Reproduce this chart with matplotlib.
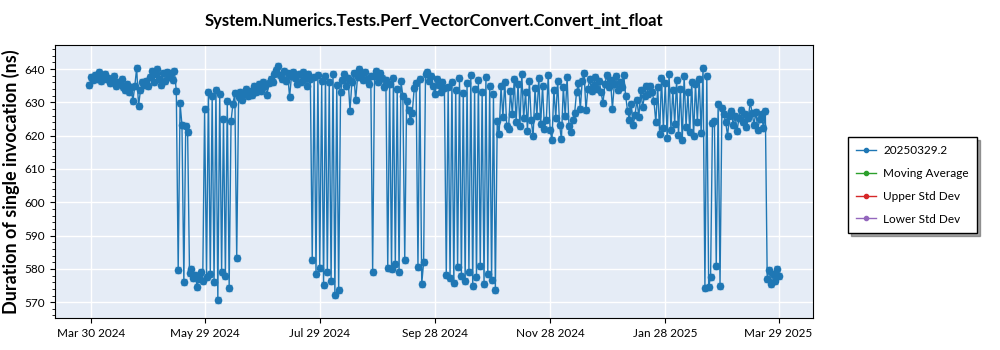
import matplotlib
matplotlib.use("Agg")
import matplotlib.pyplot as plt
import matplotlib.dates as mdates
from matplotlib.lines import Line2D
from matplotlib.ticker import AutoMinorLocator, MultipleLocator
import pandas as pd

plt.rcParams["font.family"] = ["Lato", "DejaVu Sans"]

title = "System.Numerics.Tests.Perf_VectorConvert.Convert_int_float"
series_label = "20250329.2"
first_day = "2024-03-29"
tick_dates = ["2024-03-30", "2024-05-29", "2024-07-29", "2024-09-28",
              "2024-11-28", "2025-01-28", "2025-03-29"]

# one run per day, ns
durations = [
    # Mar 29 - Apr 25
    635.2, 637.5, 636.8, 638.1, 637.0, 639.2, 636.4, 637.8, 638.5, 636.9,
    637.2, 635.8, 636.5, 638.0, 634.9, 636.2, 635.4, 637.1, 634.6, 633.8,
    635.5, 633.0, 634.5, 630.5, 634.8, 640.4, 628.9, 633.6,
    # Apr 26 - May 13
    636.0, 635.2, 636.5, 634.8,
    637.5, 639.4, 636.2, 638.6, 640.1, 637.0, 635.3, 638.8, 636.4, 639.0,
    637.6, 638.9, 636.7, 639.3, 633.5,
    # May 16 - Jun 14
    579.6, 629.8, 623.2, 576.1, 622.8, 621.0, 578.9, 580.0, 577.4, 578.2,
    574.7, 577.0, 579.1, 576.5,
    628.0, 577.5, 633.0, 578.6, 631.8, 576.2, 633.8, 570.6, 632.6, 579.2,
    625.0, 578.0, 630.5, 574.4, 624.4, 629.6, 632.7, 583.2,
    # Jun 17 - Jul 24
    631.5, 633.0, 630.8, 632.6, 634.1, 631.9, 633.5, 632.2, 634.8, 633.0,
    634.5, 635.6, 633.4, 636.2, 634.9, 632.1, 635.8, 637.0, 636.1, 638.4,
    639.6, 640.8, 638.2, 637.1, 639.3, 636.5, 638.8, 631.5, 637.9, 639.0,
    637.2, 635.4, 638.6, 636.0, 639.1, 637.4, 634.8, 638.5, 636.9,
    # Jul 25 - Aug 8
    582.6, 637.5, 578.6, 638.2, 580.4, 636.4, 575.2, 637.8, 579.0, 636.0,
    576.5, 638.5, 572.1, 635.2, 573.6,
    # Aug 10 - Sep 3
    633.0, 636.8, 638.5, 634.9, 637.2, 627.4, 636.0, 638.7, 630.7, 637.5,
    640.1, 638.4, 636.6, 639.2, 637.0, 635.5, 638.0,
    579.0,
    637.8, 639.5, 636.2, 638.9, 637.4, 634.6, 636.8,
    # Sep 3 - Sep 24
    580.2, 635.5, 579.9, 637.2, 581.4, 634.0, 579.0, 636.3, 632.0, 582.7,
    630.5, 627.8, 624.5, 626.9, 634.2,
    635.8, 580.5, 637.0, 575.4, 582.0,
    638.5, 639.2, 636.4, 638.0, 634.8, 632.6, 637.1, 635.3, 633.2, 636.0,
    634.4, 578.2,
    # Oct 6 - Oct 31
    634.5, 577.3, 636.2, 575.8, 633.8, 580.5, 637.4, 578.0, 632.9, 576.4,
    635.7, 579.2, 638.1, 574.9, 634.0, 577.6, 636.8, 580.8, 633.1, 575.5,
    637.6, 578.5, 635.0, 576.7, 632.4, 573.8,
    # Nov 1 - Dec 11
    624.5, 620.5, 634.8, 625.6, 636.2, 623.0, 622.0, 633.5, 626.4, 637.0,
    624.0, 635.6, 622.8, 638.5, 625.2, 633.1, 621.5, 636.4, 624.6, 619.8,
    634.2, 626.0, 637.3, 623.4, 635.0, 622.1, 624.8, 638.2, 621.6, 618.7,
    633.8, 625.4, 636.5, 623.2, 618.9, 634.7, 625.8, 637.6, 622.9,
    621.0, 624.6, 626.8,
    # Dec 12 - Jan 22
    633.2, 635.8, 628.0, 636.4, 638.7, 627.6, 634.1, 636.9, 633.5, 635.2,
    637.6, 634.0, 636.3, 633.1, 629.7, 635.5, 638.2, 634.6, 636.8, 628.1,
    635.4, 637.9, 633.8, 636.1, 634.5, 638.3,
    632.0, 627.5, 624.8, 629.4, 623.2, 626.3, 630.8, 625.5, 633.6, 628.7,
    631.9,
    635.0, 632.6, 634.8, 633.2, 630.4,
    # Jan 23 - Feb 25
    624.0, 634.5, 620.5, 637.3, 622.2, 635.9, 619.4, 638.6, 621.8, 633.8,
    623.5, 636.7, 620.2, 634.1, 618.6, 637.9, 622.7, 633.0, 621.0, 636.2,
    619.9, 635.5, 624.1, 637.0, 620.8, 640.3,
    574.2, 637.8, 574.5, 577.6, 623.8, 624.5, 580.8, 629.5, 575.0, 628.4,
    # Feb 26 - Mar 29
    626.5, 624.2, 619.9, 625.8, 627.4, 623.1, 626.0, 621.4, 625.2, 627.8,
    624.0, 626.6, 622.5, 625.4, 630.2, 626.8, 623.3, 627.2, 621.8, 625.0,
    626.4, 622.2, 627.5,
    577.0, 579.6, 575.5, 578.4, 576.3, 580.1, 577.8,
]
std_dev = 0.9

other_labels = ["Moving Average", "Upper Std Dev", "Lower Std Dev"]
other_colors = ["#2ca02c", "#d62728", "#9467bd"]

dates = pd.date_range(first_day, periods=len(durations), freq="D")

fig = plt.figure(figsize=(10, 3.5), dpi=100)
ax = fig.add_axes([0.055, 0.091, 0.758, 0.78])
ax.set_facecolor("#E5ECF6")

ax.errorbar(dates, durations, yerr=std_dev, fmt="o-", color="#1f77b4",
            ms=4.5, lw=1, ecolor=(0.12, 0.47, 0.71, 0.6), elinewidth=1,
            capsize=2.5)

handles = [Line2D([], [], marker="o", color="#1f77b4", ms=3, lw=1)]
for col in other_colors:
    handles.append(Line2D([], [], marker="o", color=col, ms=3, lw=1))

ax.set_ylim(565.2, 647.2)
ax.yaxis.set_major_locator(MultipleLocator(10))
ax.yaxis.set_minor_locator(AutoMinorLocator(5))
ax.set_xticks(pd.to_datetime(tick_dates))
ax.xaxis.set_major_formatter(mdates.DateFormatter("%b %d %Y"))
ax.grid(True, color="white", lw=1)
ax.set_axisbelow(True)
ax.tick_params(labelsize=8.5)
for s in ax.spines.values():
    s.set_color("black")

ax.set_title(title, fontsize=12, fontweight="bold", pad=14)
ax.set_ylabel("Duration of single invocation (ns)", fontsize=13,
              fontweight="bold", labelpad=3)

leg = fig.legend(handles, [series_label] + other_labels, loc="upper left",
                 bbox_to_anchor=(0.848, 0.609), borderaxespad=0,
                 fontsize=8.5, frameon=True, fancybox=False, shadow=True,
                 edgecolor="black", handlelength=1.7, borderpad=0.7,
                 labelspacing=1.0, handletextpad=0.6)
leg.get_frame().set_linewidth(1)

fig.savefig("out.png", dpi=100)
